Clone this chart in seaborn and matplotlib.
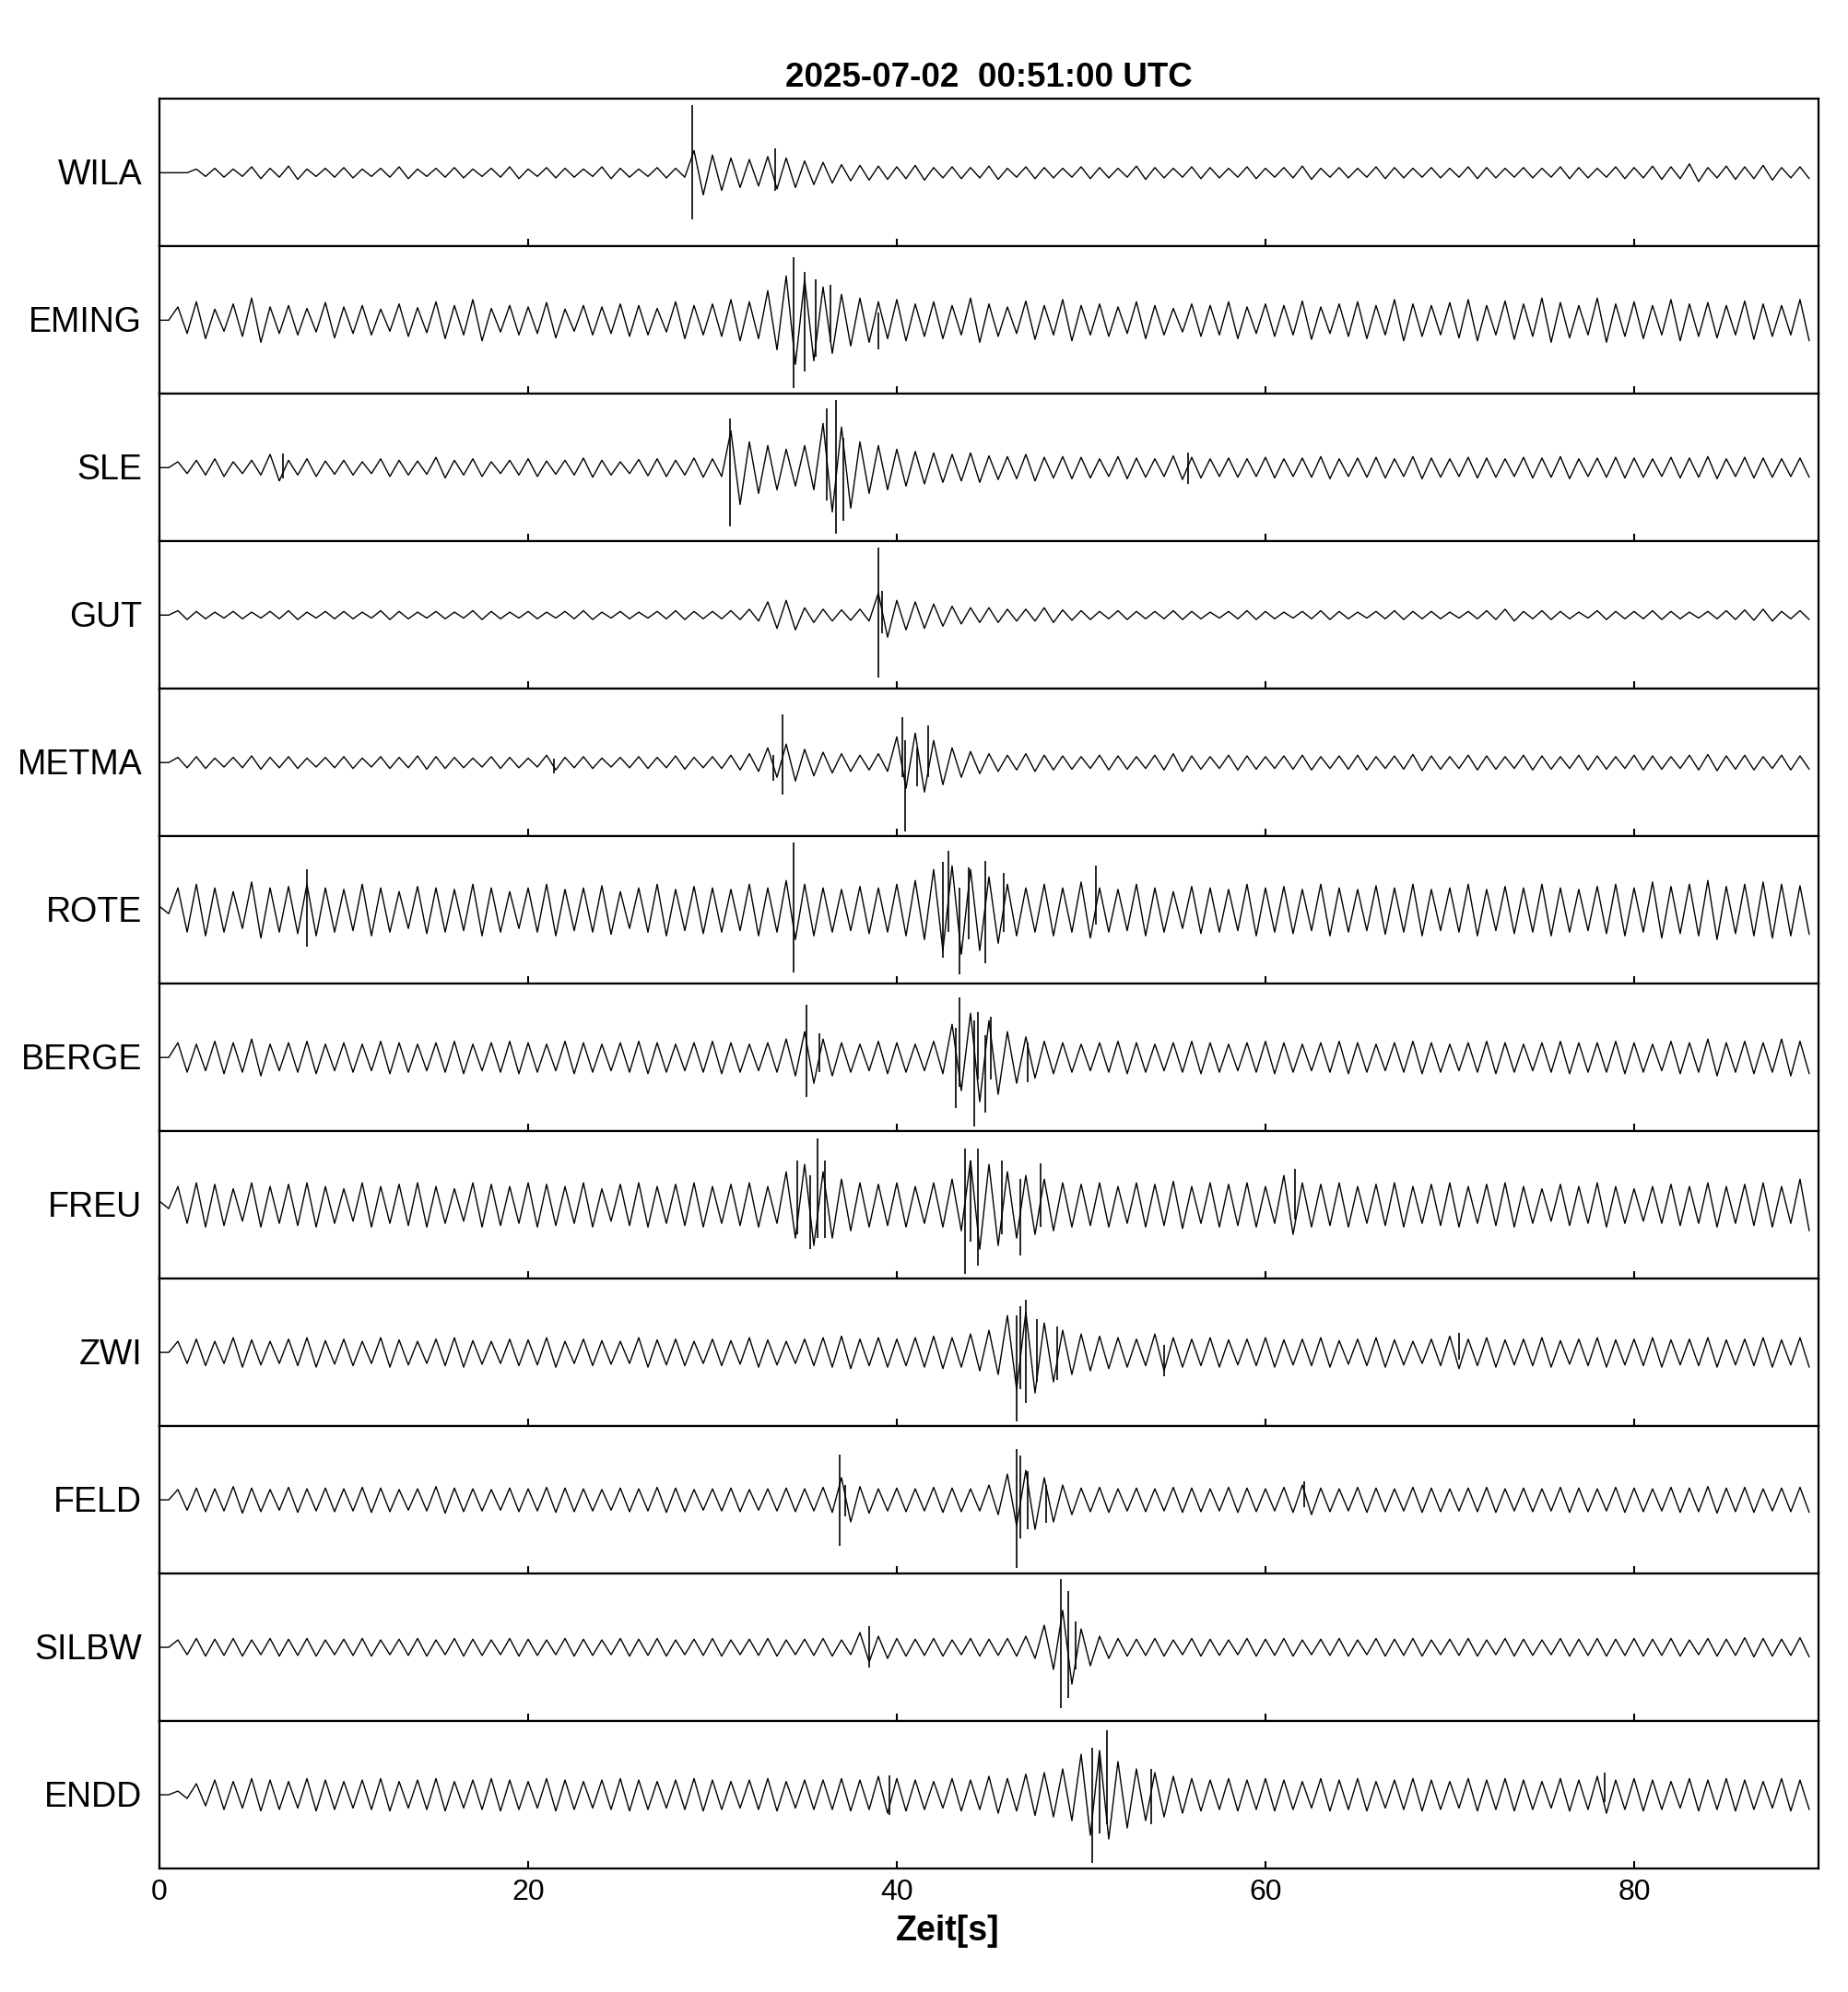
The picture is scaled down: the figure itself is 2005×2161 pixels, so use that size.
import numpy as np
import matplotlib
matplotlib.use("Agg")
import matplotlib.pyplot as plt
import seaborn as sns

# ---------------------------------------------------------------------------
# Data (amplitudes in units of half a panel)
# *_AMP   : envelope per 1 s bin, t = 0 .. 89 s
# *_PEAKS : sharp arrivals as (time [s], up, down)
# ---------------------------------------------------------------------------
STATIONS = ["WILA", "EMING", "SLE", "GUT", "METMA", "ROTE",
            "BERGE", "FREU", "ZWI", "FELD", "SILBW", "ENDD"]

WILA_AMP = [0, 0, .05, .06, .05, .08, .06, .09, .05, .06,
            .07, .05, .06, .08, .05, .06, .07, .05, .06, .08,
            .05, .07, .06, .05, .08, .06, .05, .07, .06, .30,
            .24, .20, .18, .22, .20, .16, .14, .11, .10, .09,
            .08, .10, .07, .08, .07, .09, .06, .08, .07, .06,
            .08, .07, .06, .09, .07, .06, .08, .07, .06, .08,
            .06, .07, .09, .06, .07, .06, .08, .07, .06, .07,
            .06, .08, .07, .06, .07, .06, .08, .07, .06, .08,
            .07, .09, .08, .12, .07, .09, .08, .10, .07, .08]
WILA_PEAKS = [(28.9, .92, .63), (33.4, .33, .25)]

EMING_AMP = [0, .18, .25, .15, .22, .30, .18, .20, .16, .24,
             .18, .20, .15, .22, .17, .25, .20, .28, .16, .20,
             .18, .24, .15, .20, .18, .22, .20, .16, .25, .20,
             .22, .28, .25, .40, .60, .55, .45, .35, .30, .25,
             .28, .22, .25, .20, .30, .22, .18, .26, .20, .28,
             .20, .22, .18, .25, .20, .16, .22, .20, .25, .18,
             .22, .20, .26, .18, .22, .25, .20, .28, .22, .20,
             .24, .28, .20, .26, .22, .30, .24, .20, .30, .22,
             .25, .20, .28, .22, .24, .20, .26, .22, .20, .28]
EMING_PEAKS = [(34.4, .85, .92), (35.0, .66, .69), (35.6, .55, .50),
               (36.4, .48, .30), (39.0, .10, .40)]

SLE_AMP = [0, .08, .10, .12, .08, .10, .18, .10, .12, .09,
           .10, .08, .12, .10, .09, .14, .10, .12, .08, .10,
           .12, .09, .10, .13, .10, .08, .11, .12, .10, .13,
           .12, .50, .35, .30, .25, .30, .60, .55, .35, .30,
           .25, .22, .20, .18, .20, .16, .15, .18, .14, .15,
           .14, .12, .15, .13, .12, .16, .14, .12, .13, .12,
           .14, .12, .13, .15, .12, .13, .14, .12, .15, .13,
           .12, .14, .13, .12, .14, .13, .15, .12, .13, .14,
           .13, .12, .14, .13, .15, .12, .14, .13, .12, .13]
SLE_PEAKS = [(6.7, .19, .15), (30.95, .67, .80), (36.2, .80, .45),
             (36.7, .92, .89), (37.1, .40, .72), (55.8, .20, .22)]

GUT_AMP = [0, .06, .05, .04, .05, .04, .05, .06, .04, .05,
           .05, .04, .06, .05, .04, .05, .04, .06, .05, .04,
           .05, .04, .05, .06, .04, .05, .04, .05, .06, .05,
           .05, .06, .08, .18, .20, .10, .08, .07, .08, .30,
           .20, .18, .15, .12, .10, .10, .08, .08, .10, .07,
           .06, .05, .06, .05, .05, .06, .05, .04, .05, .06,
           .05, .04, .05, .06, .05, .04, .05, .06, .05, .05,
           .04, .05, .06, .08, .05, .06, .05, .04, .06, .05,
           .05, .06, .05, .04, .05, .06, .07, .08, .05, .06]
GUT_PEAKS = [(39.0, .92, .85), (39.2, .33, .25)]

METMA_AMP = [0, .07, .08, .06, .07, .09, .07, .08, .06, .07,
             .08, .06, .08, .07, .09, .08, .07, .06, .08, .07,
             .06, .10, .07, .08, .06, .07, .08, .07, .09, .07,
             .08, .10, .12, .20, .25, .18, .14, .12, .10, .12,
             .35, .40, .30, .20, .15, .12, .10, .12, .10, .09,
             .08, .10, .09, .08, .10, .12, .09, .08, .10, .09,
             .08, .09, .10, .08, .09, .10, .08, .09, .11, .09,
             .08, .10, .09, .08, .10, .09, .08, .10, .09, .08,
             .10, .09, .08, .10, .11, .09, .10, .08, .10, .09]
METMA_PEAKS = [(21.4, .05, .15), (33.3, .10, .25), (33.8, .65, .43),
               (40.3, .62, .20), (40.45, .30, .93), (41.1, .20, .32),
               (41.7, .50, .20)]

ROTE_AMP = [.05, .30, .35, .30, .25, .38, .30, .32, .35, .30,
            .28, .35, .30, .25, .32, .30, .28, .35, .30, .25,
            .30, .35, .28, .30, .33, .25, .30, .35, .28, .32,
            .30, .28, .35, .30, .40, .35, .30, .28, .32, .30,
            .35, .40, .55, .60, .55, .45, .35, .30, .35, .30,
            .38, .30, .28, .35, .30, .25, .32, .30, .28, .35,
            .30, .32, .28, .35, .30, .28, .33, .30, .35, .28,
            .30, .35, .28, .32, .30, .35, .30, .28, .32, .35,
            .30, .38, .32, .35, .40, .32, .35, .38, .35, .33]
ROTE_PEAKS = [(8.0, .55, .50), (34.4, .92, .85), (42.5, .65, .65),
              (42.8, .80, .30), (43.4, .30, .87), (43.9, .58, .40),
              (44.8, .66, .72), (45.8, .50, .30), (50.8, .60, .20)]

BERGE_AMP = [0, .20, .18, .22, .20, .25, .18, .20, .22, .18,
             .20, .18, .22, .20, .18, .20, .22, .18, .20, .22,
             .20, .18, .22, .20, .18, .20, .22, .20, .18, .20,
             .22, .20, .18, .20, .25, .35, .25, .20, .18, .22,
             .20, .18, .22, .45, .60, .50, .35, .28, .22, .20,
             .18, .20, .22, .20, .18, .20, .22, .20, .18, .20,
             .22, .20, .18, .20, .22, .20, .18, .20, .22, .20,
             .18, .20, .22, .20, .18, .20, .22, .20, .20, .22,
             .20, .18, .22, .20, .25, .20, .22, .20, .25, .22]
BERGE_PEAKS = [(35.1, .72, .54), (35.8, .33, .20), (43.2, .40, .69),
               (43.4, .82, .40), (44.2, .50, .93), (44.4, .62, .30),
               (44.8, .30, .75), (45.1, .55, .30), (47.1, .20, .34)]

FREU_AMP = [.05, .25, .30, .28, .22, .30, .25, .28, .30, .25,
            .22, .30, .25, .28, .30, .25, .22, .30, .28, .25,
            .30, .28, .25, .30, .22, .28, .30, .25, .28, .30,
            .25, .28, .30, .25, .45, .55, .45, .35, .30, .28,
            .30, .25, .30, .35, .60, .55, .45, .40, .35, .30,
            .28, .30, .25, .30, .28, .32, .25, .30, .28, .30,
            .25, .40, .30, .28, .30, .25, .28, .30, .25, .28,
            .30, .25, .28, .30, .25, .22, .28, .25, .30, .25,
            .22, .25, .28, .25, .30, .25, .28, .30, .25, .35]
FREU_PEAKS = [(34.6, .60, .40), (35.3, .40, .60), (35.7, .90, .45),
              (36.1, .60, .45), (43.7, .76, .93), (44.0, .60, .50),
              (44.4, .76, .82), (45.7, .60, .40), (46.7, .35, .68),
              (47.8, .57, .30), (61.6, .49, .20)]

ZWI_AMP = [0, .15, .18, .15, .20, .17, .15, .18, .20, .16,
           .18, .15, .20, .17, .15, .18, .20, .16, .15, .18,
           .17, .20, .15, .18, .16, .15, .20, .17, .18, .15,
           .18, .16, .20, .17, .15, .18, .20, .22, .18, .20,
           .18, .20, .22, .20, .25, .30, .50, .55, .40, .30,
           .25, .22, .20, .18, .25, .20, .18, .20, .17, .18,
           .20, .17, .18, .20, .16, .18, .20, .17, .15, .18,
           .22, .18, .20, .17, .18, .20, .16, .18, .20, .17,
           .18, .20, .17, .18, .20, .17, .18, .20, .17, .20]
ZWI_PEAKS = [(46.5, .50, .93), (46.7, .63, .50), (47.0, .71, .69),
             (47.6, .45, .40), (48.7, .35, .37), (54.5, .10, .32),
             (70.5, .26, .10)]

FELD_AMP = [0, .14, .16, .15, .18, .16, .14, .17, .15, .16,
            .15, .17, .16, .14, .15, .18, .16, .15, .14, .16,
            .15, .17, .16, .15, .14, .16, .15, .17, .16, .14,
            .15, .16, .14, .15, .16, .15, .17, .30, .18, .15,
            .16, .15, .17, .16, .15, .20, .35, .40, .30, .20,
            .16, .17, .15, .16, .15, .17, .16, .15, .17, .16,
            .15, .17, .20, .16, .15, .17, .16, .15, .17, .16,
            .15, .16, .17, .15, .16, .15, .17, .16, .15, .17,
            .16, .15, .17, .16, .18, .16, .17, .15, .16, .17]
FELD_PEAKS = [(36.9, .62, .63), (37.2, .20, .23), (46.5, .69, .92),
              (46.7, .60, .53), (47.1, .39, .40), (48.1, .20, .31),
              (62.1, .25, .10)]

SILBW_AMP = [0, .10, .12, .11, .12, .10, .12, .11, .12, .10,
             .11, .12, .10, .11, .12, .10, .12, .11, .10, .12,
             .11, .10, .12, .11, .10, .12, .11, .12, .10, .11,
             .12, .10, .11, .12, .10, .11, .12, .10, .20, .15,
             .12, .11, .12, .10, .12, .11, .12, .15, .30, .50,
             .25, .15, .12, .11, .12, .10, .12, .11, .10, .12,
             .11, .12, .10, .11, .12, .10, .12, .11, .12, .10,
             .11, .12, .10, .12, .11, .10, .12, .11, .12, .11,
             .12, .11, .12, .10, .12, .11, .13, .12, .11, .13]
SILBW_PEAKS = [(38.5, .29, .28), (48.9, .92, .83), (49.3, .76, .69),
               (49.7, .35, .30)]

ENDD_AMP = [0, .05, .15, .20, .18, .22, .20, .18, .22, .20,
            .18, .20, .22, .18, .20, .22, .18, .20, .22, .20,
            .18, .22, .20, .18, .20, .22, .20, .18, .20, .22,
            .20, .18, .20, .22, .18, .20, .20, .22, .20, .25,
            .22, .20, .18, .22, .20, .25, .22, .28, .30, .35,
            .55, .60, .45, .35, .30, .25, .22, .20, .22, .20,
            .22, .20, .18, .22, .20, .22, .18, .20, .22, .20,
            .18, .22, .20, .22, .20, .18, .22, .20, .25, .20,
            .22, .20, .18, .22, .20, .22, .20, .18, .22, .20]
ENDD_PEAKS = [(39.6, .26, .27), (50.6, .64, .93), (51.0, .52, .53),
              (51.4, .87, .40), (53.8, .35, .40), (78.4, .30, .10)]

AMPS = [WILA_AMP, EMING_AMP, SLE_AMP, GUT_AMP, METMA_AMP, ROTE_AMP,
        BERGE_AMP, FREU_AMP, ZWI_AMP, FELD_AMP, SILBW_AMP, ENDD_AMP]
PEAKS = [WILA_PEAKS, EMING_PEAKS, SLE_PEAKS, GUT_PEAKS, METMA_PEAKS, ROTE_PEAKS,
         BERGE_PEAKS, FREU_PEAKS, ZWI_PEAKS, FELD_PEAKS, SILBW_PEAKS, ENDD_PEAKS]

TITLE = "2025-07-02  00:51:00 UTC"
XTICKS = [0, 20, 40, 60, 80]

# ---------------------------------------------------------------------------
sns.set_theme(style="white")
plt.rcParams["font.family"] = ["Liberation Sans", "DejaVu Sans"]
plt.rcParams["text.color"] = "black"

fig, axes = plt.subplots(len(STATIONS), 1, figsize=(20.05, 21.61), dpi=100,
                         sharex=True)
fig.subplots_adjust(left=0.0863, right=0.984, top=0.9503, bottom=0.062,
                    hspace=0)

for ax, name, amp, peaks in zip(axes, STATIONS, AMPS, PEAKS):
    amp = np.asarray(amp, dtype=float)
    t = np.arange(len(amp), dtype=float)
    # min/max zigzag per bin
    xs = np.column_stack([t, t + 0.5]).ravel()
    ys = np.column_stack([amp, -amp]).ravel()
    sns.lineplot(x=xs, y=ys, ax=ax, color="black", linewidth=1.0,
                 sort=False, estimator=None)
    pk = np.asarray(peaks, dtype=float)
    ax.vlines(pk[:, 0], -pk[:, 2], pk[:, 1], color="black", linewidth=1.2)

    ax.set_xlim(0, 90)
    ax.set_ylim(-1, 1)
    ax.set_yticks([])
    ax.set_ylabel("")
    ax.set_xticks(XTICKS)
    ax.tick_params(axis="x", direction="in", length=6, width=1.5,
                   bottom=True, top=False, labelsize=23, pad=8,
                   colors="black")
    for spine in ax.spines.values():
        spine.set_visible(True)
        spine.set_linewidth(1.6)
        spine.set_color("black")
    ax.text(-0.0105, 0.481, name, transform=ax.transAxes, ha="right",
            va="center", fontsize=27, color="black")

fig.text(0.535, 1 - 94 / 2161, TITLE, ha="center", va="baseline",
         fontsize=26.5, fontweight="bold", color="black")
fig.text(0.5128, 1 - 2095 / 2161, "Zeit[s]", ha="center", va="center",
         fontsize=27, fontweight="bold", color="black")

fig.savefig("out.png", dpi=100, facecolor="white")
